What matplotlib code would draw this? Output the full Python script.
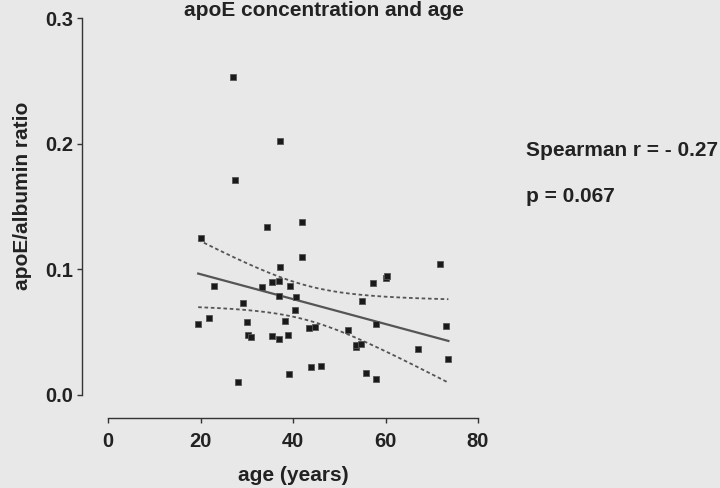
import numpy as np
import matplotlib
matplotlib.use("Agg")
import matplotlib.pyplot as plt

plt.rcParams['font.family'] = ['Liberation Sans', 'DejaVu Sans']

title = "apoE concentration and age"
x_label = "age (years)"
y_label = "apoE/albumin ratio"
stats_lines = ["Spearman r = - 0.27", "p = 0.067"]
x_ticks = [0, 20, 40, 60, 80]
y_ticks = [0.0, 0.1, 0.2, 0.3]
y_tick_labels = ["0.0", "0.1", "0.2", "0.3"]

age = [27.1, 37.2, 27.5, 34.3, 41.9, 20.1, 42.0, 37.2, 71.8, 23.0,
       33.4, 35.5, 37.0, 39.3, 57.2, 60.0, 60.4, 37.0, 40.6, 55.0,
       29.1, 40.5, 21.8, 19.5, 30.1, 38.2, 43.5, 44.8, 51.8, 58.0,
       73.0, 30.3, 30.9, 35.5, 36.9, 38.9, 53.6, 53.7, 54.6, 67.0,
       73.6, 39.1, 43.9, 46.1, 55.8, 58.0, 28.2]
ratio = [0.2534, 0.202, 0.171, 0.134, 0.138, 0.125, 0.110, 0.102, 0.104, 0.087,
         0.086, 0.090, 0.091, 0.0865, 0.089, 0.0934, 0.0947, 0.079, 0.078, 0.0746,
         0.073, 0.0674, 0.0616, 0.0563, 0.0579, 0.0587, 0.0536, 0.0544, 0.0515, 0.0565,
         0.0549, 0.048, 0.046, 0.0467, 0.0448, 0.0475, 0.0379, 0.0398, 0.0409, 0.0366,
         0.0284, 0.017, 0.0225, 0.0233, 0.0173, 0.0127, 0.0104]

x = np.array(age)
y = np.array(ratio)
n = len(x)
slope, intercept = np.polyfit(x, y, 1)
xf = np.linspace(x.min(), x.max(), 200)
yf = intercept + slope * xf
resid = y - (intercept + slope * x)
s = np.sqrt(np.sum(resid ** 2) / (n - 2))
sxx = np.sum((x - x.mean()) ** 2)
t_crit = 2.014
half = t_crit * s * np.sqrt(1.0 / n + (xf - x.mean()) ** 2 / sxx)

W, H = 720, 488
bg = '#e8e8e8'
txt = '#222222'
fig = plt.figure(figsize=(7.2, 4.88), dpi=100, facecolor=bg)
ax = fig.add_axes([108 / W, 93 / H, 370 / W, 377 / H])
ax.set_facecolor(bg)
ax.patch.set_alpha(0)

dark = '#333333'
ax.plot(xf, yf, color='#555555', lw=1.6, zorder=2)
ax.plot(xf, yf + half, color='#555555', lw=1.3, ls=(0, (2, 1.5)), zorder=2)
ax.plot(xf, yf - half, color='#555555', lw=1.3, ls=(0, (2, 1.5)), zorder=2)
ax.plot(x, y, ls='none', marker='s', markersize=4.8, markerfacecolor='#1a1a1a',
        markeredgecolor='#555555', markeredgewidth=0.6, zorder=3)

ax.set_xlim(0, 80)
ax.set_ylim(0, 0.3)
ax.set_xticks(x_ticks)
ax.set_yticks(y_ticks)
ax.set_yticklabels(y_tick_labels)
ax.spines['top'].set_visible(False)
ax.spines['right'].set_visible(False)
ax.spines['left'].set_position(('outward', 26 * 72 / 100))
ax.spines['bottom'].set_position(('outward', 23 * 72 / 100))
for sp in ('left', 'bottom'):
    ax.spines[sp].set_color(dark)
    ax.spines[sp].set_linewidth(1.0)
ax.tick_params(axis='both', colors=dark, width=1.0, length=3.6, labelsize=14.5,
               labelcolor=txt)
ax.tick_params(axis='y', pad=2.5)
ax.tick_params(axis='x', pad=6.5)
for lbl in ax.get_xticklabels() + ax.get_yticklabels():
    lbl.set_fontweight('bold')

fig.text(23 / W, 1 - 196 / H, y_label, rotation=90, ha='center', va='center',
         fontsize=15, fontweight='bold', color=txt)
fig.text(293 / W, 1 - 481 / H, x_label, ha='center', va='baseline',
         fontsize=15, fontweight='bold', color=txt)
fig.text(324 / W, 1 - 16 / H, title, ha='center', va='baseline',
         fontsize=15, fontweight='bold', color=txt)
fig.text(526 / W, 1 - 156 / H, stats_lines[0], ha='left', va='baseline',
         fontsize=15, fontweight='bold', color=txt)
fig.text(526 / W, 1 - 202 / H, stats_lines[1], ha='left', va='baseline',
         fontsize=15, fontweight='bold', color=txt)

fig.savefig('out.png', dpi=100, facecolor=bg)
